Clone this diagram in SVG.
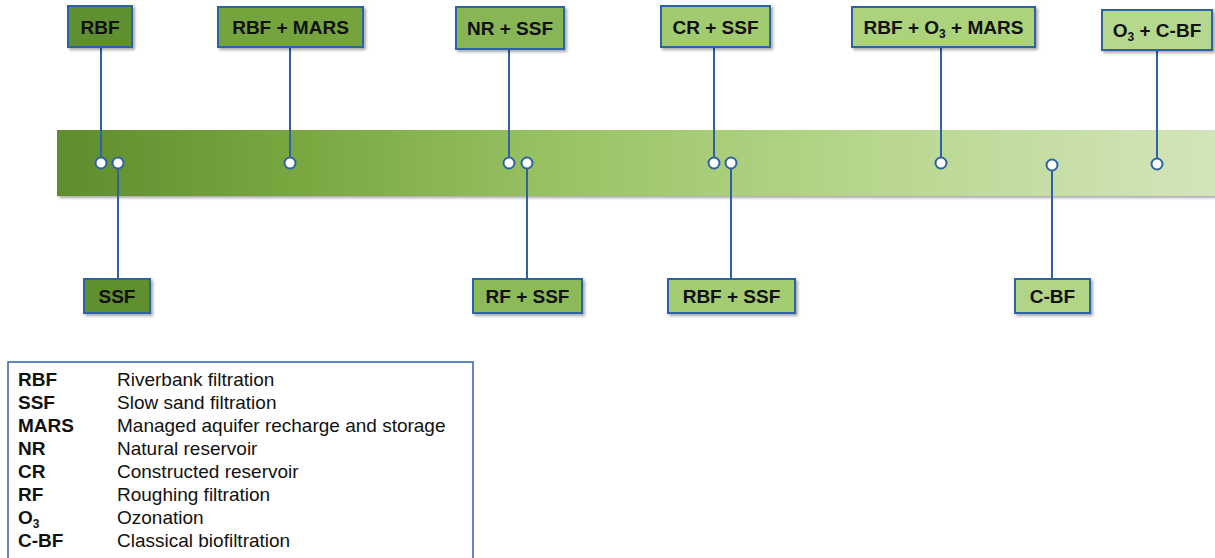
<svg xmlns="http://www.w3.org/2000/svg" width="1215" height="558" viewBox="0 0 1215 558">
<defs>
<linearGradient id="bar" x1="57" y1="0" x2="1215" y2="0" gradientUnits="userSpaceOnUse">
<stop offset="0" stop-color="#5f8d2d"/>
<stop offset="0.2" stop-color="#78a63f"/>
<stop offset="0.45" stop-color="#9cc466"/>
<stop offset="0.7" stop-color="#b7d68d"/>
<stop offset="1" stop-color="#d3e5bb"/>
</linearGradient>
<filter id="sh" x="-10%" y="-10%" width="130%" height="140%">
<feGaussianBlur in="SourceAlpha" stdDeviation="1.5"/>
<feOffset dx="2" dy="2" result="b"/>
<feComponentTransfer><feFuncA type="linear" slope="0.35"/></feComponentTransfer>
<feMerge><feMergeNode/><feMergeNode in="SourceGraphic"/></feMerge>
</filter>
</defs>
<style>
.box{stroke:#2d62a6;stroke-width:2;filter:url(#sh)}
.lbl{font-family:"Liberation Sans",Arial,sans-serif;font-weight:bold;font-size:19px;fill:#111;text-anchor:middle}
.ln{stroke:#2d62a6;stroke-width:2;fill:none}
.dot{fill:#fff;stroke:#2d62a6;stroke-width:2}
.lk{font-family:"Liberation Sans",Arial,sans-serif;font-weight:bold;font-size:19px;fill:#111}
.lv{font-family:"Liberation Sans",Arial,sans-serif;font-size:19px;fill:#111}
</style>
<rect id="timeline" x="57" y="130" width="1158" height="66" fill="url(#bar)" filter="url(#sh)"/>
<g id="connectors">
<line class="ln" x1="101" y1="47" x2="101" y2="163"/>
<line class="ln" x1="118" y1="163" x2="118" y2="279"/>
<line class="ln" x1="290" y1="47" x2="290" y2="163"/>
<line class="ln" x1="509" y1="49" x2="509" y2="163"/>
<line class="ln" x1="527" y1="163" x2="527" y2="279"/>
<line class="ln" x1="714" y1="47" x2="714" y2="163"/>
<line class="ln" x1="731" y1="163" x2="731" y2="279"/>
<line class="ln" x1="941" y1="47" x2="941" y2="163"/>
<line class="ln" x1="1052" y1="165" x2="1052" y2="279"/>
<line class="ln" x1="1157" y1="50" x2="1157" y2="164"/>
<circle class="dot" cx="101" cy="163" r="5.5"/>
<circle class="dot" cx="118" cy="163" r="5.5"/>
<circle class="dot" cx="290" cy="163" r="5.5"/>
<circle class="dot" cx="509" cy="163" r="5.5"/>
<circle class="dot" cx="527" cy="163" r="5.5"/>
<circle class="dot" cx="714" cy="163" r="5.5"/>
<circle class="dot" cx="731" cy="163" r="5.5"/>
<circle class="dot" cx="941" cy="163" r="5.5"/>
<circle class="dot" cx="1052" cy="165" r="5.5"/>
<circle class="dot" cx="1157" cy="164" r="5.5"/>
</g>
<g id="n-rbf"><rect class="box" x="68" y="6" width="64" height="41" fill="#5f8f2e"/><text class="lbl" x="100" y="34">RBF</text></g>
<g id="n-rbf-mars"><rect class="box" x="218" y="7" width="145" height="40" fill="#74a43e"/><text class="lbl" x="290.5" y="34">RBF + MARS</text></g>
<g id="n-nr-ssf"><rect class="box" x="456" y="7" width="108" height="42" fill="#88b554"/><text class="lbl" x="510" y="35">NR + SSF</text></g>
<g id="n-cr-ssf"><rect class="box" x="661" y="6" width="109" height="41" fill="#a2cb70"/><text class="lbl" x="715.5" y="34">CR + SSF</text></g>
<g id="n-rbf-o3-mars"><rect class="box" x="852" y="7" width="183" height="40" fill="#acd27c"/><text class="lbl" x="943.5" y="34">RBF + O<tspan font-size="12" dy="4">3</tspan><tspan dy="-4"> + MARS</tspan></text></g>
<g id="n-o3-cbf"><rect class="box" x="1102" y="10" width="110" height="40" fill="#b6d88e"/><text class="lbl" x="1157" y="37">O<tspan font-size="12" dy="4">3</tspan><tspan dy="-4"> + C-BF</tspan></text></g>
<g id="n-ssf"><rect class="box" x="84" y="279" width="66" height="34" fill="#5f8f2e"/><text class="lbl" x="117" y="303">SSF</text></g>
<g id="n-rf-ssf"><rect class="box" x="473" y="279" width="109" height="34" fill="#8dba58"/><text class="lbl" x="527.5" y="303">RF + SSF</text></g>
<g id="n-rbf-ssf"><rect class="box" x="668" y="279" width="127" height="34" fill="#a4cc72"/><text class="lbl" x="731.5" y="303">RBF + SSF</text></g>
<g id="n-cbf"><rect class="box" x="1015" y="279" width="75" height="34" fill="#b1d487"/><text class="lbl" x="1052.5" y="303">C-BF</text></g>
<g id="legend">
<rect x="8" y="362" width="465" height="200" fill="#fff" stroke="#2d62a6" stroke-width="1.5"/>
<text class="lk" x="18" y="386">RBF</text><text class="lv" x="117" y="386">Riverbank filtration</text>
<text class="lk" x="18" y="409">SSF</text><text class="lv" x="117" y="409">Slow sand filtration</text>
<text class="lk" x="18" y="432">MARS</text><text class="lv" x="117" y="432">Managed aquifer recharge and storage</text>
<text class="lk" x="18" y="455">NR</text><text class="lv" x="117" y="455">Natural reservoir</text>
<text class="lk" x="18" y="478">CR</text><text class="lv" x="117" y="478">Constructed reservoir</text>
<text class="lk" x="18" y="501">RF</text><text class="lv" x="117" y="501">Roughing filtration</text>
<text class="lk" x="18" y="524">O<tspan font-size="12" dy="4">3</tspan></text><text class="lv" x="117" y="524">Ozonation</text>
<text class="lk" x="18" y="547">C-BF</text><text class="lv" x="117" y="547">Classical biofiltration</text>
</g>
</svg>
